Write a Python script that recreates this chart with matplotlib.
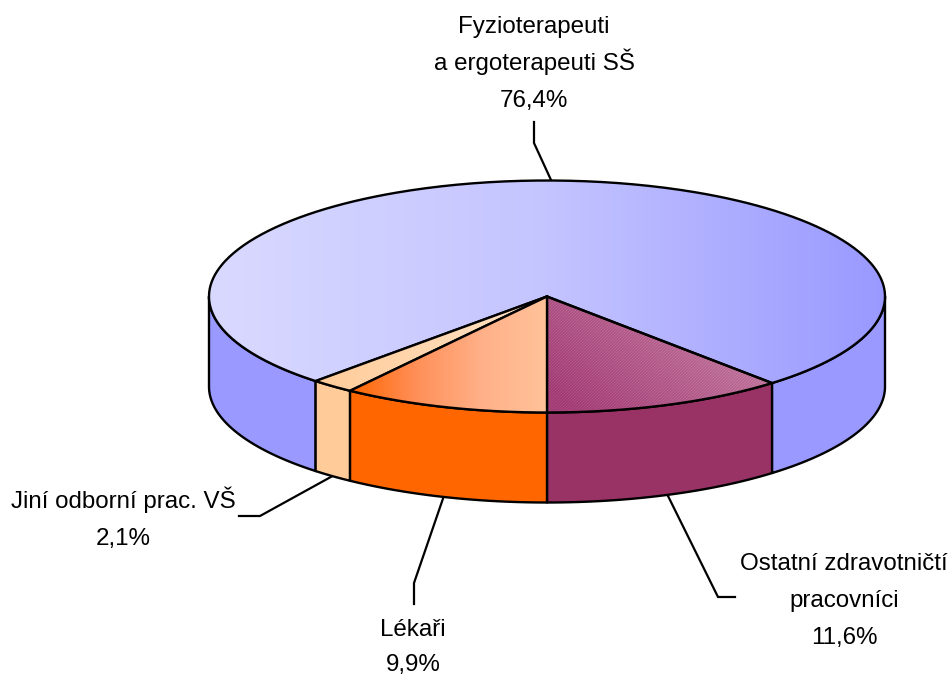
import numpy as np
import matplotlib
matplotlib.use("Agg")
import matplotlib.pyplot as plt
from matplotlib.path import Path
from matplotlib.patches import PathPatch
from matplotlib.colors import LinearSegmentedColormap as LSC

# data (share of staff, %), counter-clockwise from the bottom of the pie
labels = [["Ostatní zdravotničtí", "pracovníci", "11,6%"],
          ["Fyzioterapeuti", "a ergoterapeuti SŠ", "76,4%"],
          ["Jiní odborní prac. VŠ", "2,1%"],
          ["Lékaři", "9,9%"]]
values = [11.6, 76.4, 2.1, 9.9]
side_colors = ["#993366", "#9999FF", "#FFCC99", "#FF6600"]
top_grads = [["#A23A74", "#CC8CAC"],
             ["#D9D9FF", "#C4C4FF", "#9999FF"],
             ["#FFCC99", "#FFE3C8"],
             ["#FF6600", "#FF8F58", "#FFB088", "#FFC299"]]

plt.rcParams["font.family"] = ["Liberation Sans", "DejaVu Sans"]
fig = plt.figure(figsize=(9.52, 6.77), dpi=100)
ax = fig.add_axes([0, 0, 1, 1])
ax.set_xlim(0, 952); ax.set_ylim(677, 0); ax.axis("off")

CX, CY, RX, RY, DEPTH = 547, 296.5, 338, 116, 90
LW = 1.7

def pt(deg, dy=0.0):
    t = np.radians(deg)
    return CX + RX*np.cos(t), CY - RY*np.sin(t) + dy

def arc(a, b, dy=0.0, n=200):
    return np.array([pt(d, dy) for d in np.linspace(a, b, n)])

edges = -90 + np.cumsum([0] + values) * 3.6
spans = list(zip(edges[:-1], edges[1:]))

def grad_fill(poly, colors, diag=False, z=2):
    xs, ys = poly[:, 0], poly[:, 1]
    x0, x1, y0, y1 = xs.min(), xs.max(), ys.min(), ys.max()
    nx, ny = max(int(x1-x0), 2), max(int(y1-y0), 2)
    gx, gy = np.meshgrid(np.linspace(0, 1, nx), np.linspace(0, 1, ny))
    g = (gx + 0.55*(1-gy))/1.55 if diag else gx
    if diag:
        px, py = np.meshgrid(np.arange(nx), np.arange(ny))
        g = g + 0.22*(((px + py) % 3 == 0) - 0.33)
    cm = LSC.from_list("g", colors)
    im = ax.imshow(g, extent=(x0, x1, y1, y0), cmap=cm, vmin=0, vmax=1,
                   aspect="auto", zorder=z, interpolation="nearest")
    patch = PathPatch(Path(poly), fc="none", ec="none", transform=ax.transData)
    ax.add_patch(patch)
    im.set_clip_path(patch)
    ax.plot(np.r_[xs, xs[0]], np.r_[ys, ys[0]], color="k", lw=LW, zorder=z+2,
            solid_joinstyle="round")

# side walls (only the front half of the rim is visible)
for (a, b), col in zip(spans, side_colors):
    pieces = []
    if b <= 0:
        pieces.append((a, b))
    elif a < 0:
        pieces.append((a, 0))
        if b > 180:
            pieces.append((180, b))
    elif b > 180:
        pieces.append((max(a, 180), b))
    for p, q in pieces:
        top, bot = arc(p, q), arc(q, p, DEPTH)
        poly = np.vstack([top, bot])
        ax.fill(poly[:, 0], poly[:, 1], fc=col, ec="k", lw=LW, zorder=1,
                joinstyle="round")

# top faces
for (a, b), cols, i in zip(spans, top_grads, range(4)):
    poly = np.vstack([[(CX, CY)], arc(a, b, n=400)])
    grad_fill(poly, cols, diag=(i == 0), z=3 + i*3 if i != 1 else 2)

# leader lines
mids = [(a + b)/2 for a, b in spans]
bends = [[(718, 597), (735, 597)], [(534, 143), (534, 122)],
         [(260, 516), (239, 516)], [(414, 583), (414, 604)]]
for m, b in zip(mids, bends):
    start = pt(m, DEPTH if np.sin(np.radians(m)) < 0 else 0)
    xy = np.array([start] + b)
    ax.plot(xy[:, 0], xy[:, 1], color="k", lw=1.6, zorder=0.5,
            solid_joinstyle="miter")

# labels: one text per line on a fixed baseline grid
anchors = [(844, 570, 37), (534, 33, 37), (123, 508, 37), (413, 636, 35)]
for lines, (x, y, step) in zip(labels, anchors):
    for k, s in enumerate(lines):
        ax.text(x, y + step*k, s, ha="center", va="baseline", fontsize=17.4,
                color="k", zorder=20)

fig.savefig("out.png", dpi=100, facecolor="white")
